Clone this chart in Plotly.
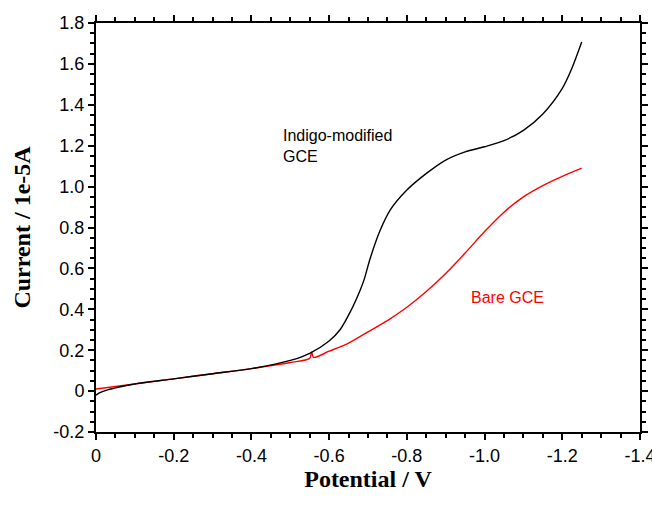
import plotly.graph_objects as go

# Indigo-modified GCE (black)
x_mod = [0.0, -0.01, -0.03, -0.06, -0.1, -0.2, -0.3, -0.4, -0.5, -0.55, -0.6, -0.628, -0.655,
         -0.679, -0.69, -0.705, -0.731, -0.757, -0.8, -0.852, -0.9, -0.95, -1.0,
         -1.05, -1.1, -1.15, -1.2, -1.225, -1.25]
y_mod = [-0.02, -0.008, 0.006, 0.02, 0.035, 0.06, 0.085, 0.11, 0.15, 0.185, 0.245, 0.30, 0.39,
         0.49, 0.545, 0.645, 0.785, 0.885, 0.983, 1.067, 1.13, 1.17, 1.195,
         1.225, 1.275, 1.355, 1.48, 1.58, 1.707]

# Bare GCE (red)
x_bare = [0.0, -0.1, -0.2, -0.3, -0.4, -0.5, -0.55, -0.555, -0.56, -0.6, -0.65, -0.7,
          -0.75, -0.8, -0.85, -0.9, -0.95, -1.0, -1.05, -1.1, -1.15, -1.2, -1.25]
y_bare = [0.01, 0.035, 0.06, 0.085, 0.11, 0.14, 0.16, 0.19, 0.165, 0.195, 0.235, 0.29,
          0.345, 0.41, 0.487, 0.575, 0.675, 0.78, 0.875, 0.95, 1.005, 1.05, 1.09]

x_ticks = [0, -0.2, -0.4, -0.6, -0.8, -1.0, -1.2, -1.4]
x_labels = ["0", "-0.2", "-0.4", "-0.6", "-0.8", "-1.0", "-1.2", "-1.4"]
y_ticks = [-0.2, 0, 0.2, 0.4, 0.6, 0.8, 1.0, 1.2, 1.4, 1.6, 1.8]
y_labels = ["-0.2", "0", "0.2", "0.4", "0.6", "0.8", "1.0", "1.2", "1.4", "1.6", "1.8"]

fig = go.Figure()
fig.add_trace(go.Scatter(x=x_bare, y=y_bare, mode="lines", line_shape="spline",
                         line=dict(color="#ff0000", width=1.4, smoothing=0.8), showlegend=False))
fig.add_trace(go.Scatter(x=x_mod, y=y_mod, mode="lines", line_shape="spline",
                         line=dict(color="#000000", width=1.4, smoothing=0.8), showlegend=False))

tickfont = dict(family="Liberation Sans, Arial", size=18, color="black")
titlefont = dict(family="Liberation Serif, Times New Roman", size=24, color="black")

fig.update_layout(
    width=652, height=515,
    margin=dict(l=96, r=12, t=23, b=83),
    paper_bgcolor="white", plot_bgcolor="white",
    xaxis=dict(range=[0, -1.4], tickvals=x_ticks, ticktext=x_labels, automargin=False,
               ticklabeloverflow="allow",
               showgrid=False, zeroline=False, showline=True, linecolor="black", linewidth=2,
               mirror="ticks", ticks="outside", ticklen=6, tickwidth=2, tickcolor="black",
               minor=dict(dtick=0.05, ticks="outside", ticklen=4, tickwidth=1.5, tickcolor="black"),
               tickfont=tickfont,
               title=dict(text="<b>Potential / V</b>", standoff=6, font=titlefont)),
    yaxis=dict(range=[-0.2, 1.8], tickvals=y_ticks, ticktext=y_labels, automargin=False,
               showgrid=False, zeroline=False, showline=True, linecolor="black", linewidth=2,
               mirror="ticks", ticks="outside", ticklen=6, tickwidth=2, tickcolor="black",
               minor=dict(dtick=0.05, ticks="outside", ticklen=4, tickwidth=1.5, tickcolor="black"),
               tickfont=tickfont,
               title=dict(text="<b>Current / 1e-5A</b>", standoff=16, font=titlefont)),
    annotations=[
        dict(x=-0.475, y=1.2, xref="x", yref="y", text="Indigo-modified<br>GCE",
             showarrow=False, xanchor="left", yanchor="middle", align="left",
             font=dict(family="Liberation Sans, Arial", size=16, color="black")),
        dict(x=-0.96, y=0.46, xref="x", yref="y", text="Bare GCE",
             showarrow=False, xanchor="left", yanchor="middle", align="left",
             font=dict(family="Liberation Sans, Arial", size=16, color="#ff0000")),
    ],
)

fig.write_html("out.html")
